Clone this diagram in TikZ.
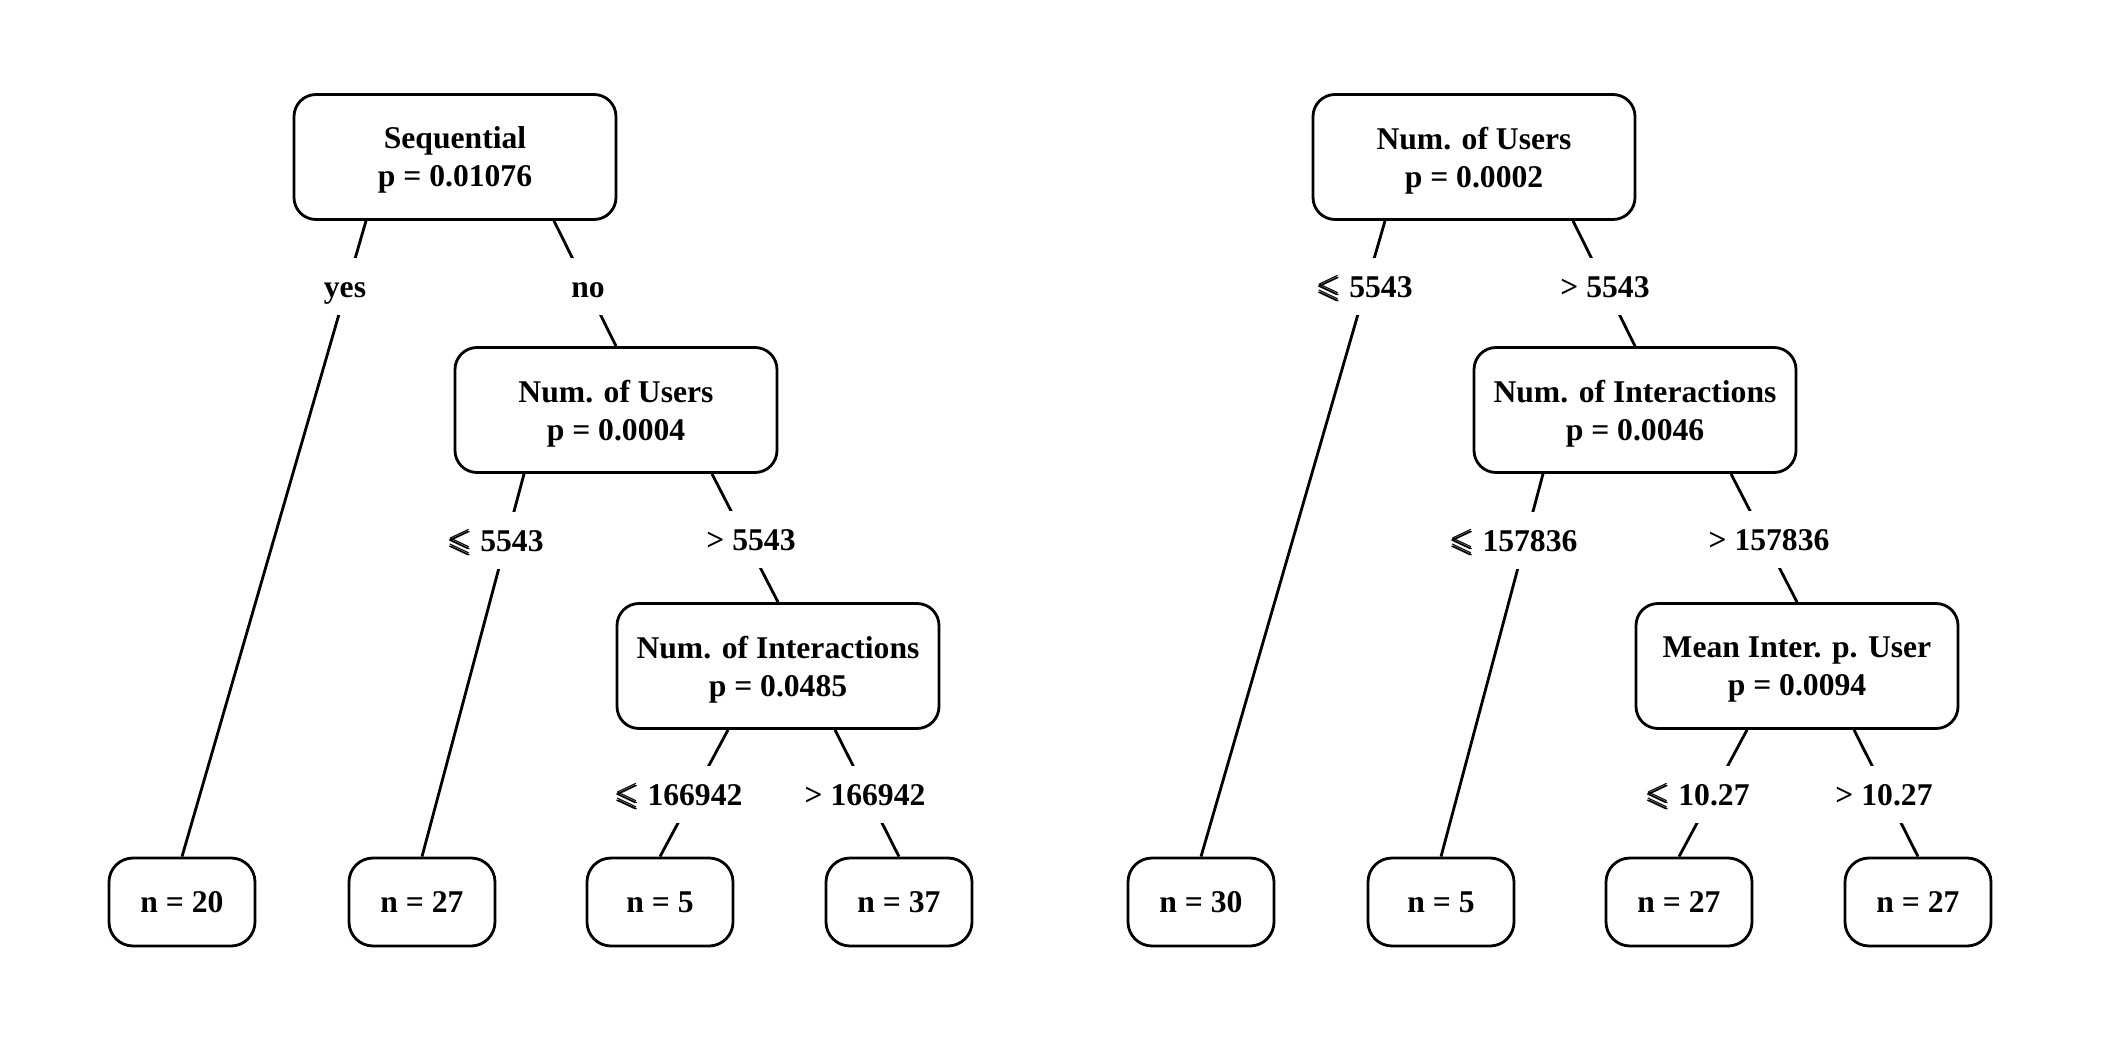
\documentclass[tikz,border=0pt]{standalone}
\usepackage{amsmath,amssymb,bm}
\usepackage{fontspec}
\setmainfont{Liberation Serif}
\usepackage{tikz}
\usetikzlibrary{positioning}

\begin{document}
\begin{tikzpicture}[
    inner/.style={rectangle, draw=black, line width=0.8pt, rounded corners=0.22cm, fill=white,
               minimum width=3.22cm, minimum height=1.25cm, align=center, text depth=0pt,
               font=\fontsize{9}{10.8}\selectfont\bfseries},
    leaf/.style={rectangle, draw=black, line width=0.8pt, rounded corners=0.24cm, fill=white,
               minimum width=1.46cm, minimum height=0.88cm, align=center,
               font=\fontsize{9}{10.8}\selectfont\bfseries},
    lab/.style={fill=white, inner xsep=2pt, inner ysep=0pt, text height=0.27cm, text depth=0.05cm,
               minimum height=0.57cm, font=\fontsize{9}{10.8}\selectfont\bfseries},
    edge/.style={line width=0.8pt, draw=black}
]
    \useasboundingbox (0,0) rectangle (21.13,-10.45);

    % Left tree: inner nodes
    \node[inner] (sq) at (4.55,-1.57) {Sequential\\p = 0.01076};
    \node[inner] (lu) at (6.16,-4.10) {Num. of Users\\p = 0.0004};
    \node[inner] (li) at (7.78,-6.66) {Num. of Interactions\\p = 0.0485};

    % Left tree: terminal nodes
    \node[leaf] (la) at (1.82,-9.02) {n = 20};
    \node[leaf] (lb) at (4.22,-9.02) {n = 27};
    \node[leaf] (lc) at (6.60,-9.02) {n = 5};
    \node[leaf] (ld) at (8.99,-9.02) {n = 37};

    % Left tree: edges
    \draw[edge] ([xshift=-0.89cm]sq.south) -- (la.north);
    \draw[edge] ([xshift=0.99cm]sq.south)  -- (lu.north);
    \draw[edge] ([xshift=-0.92cm]lu.south) -- (lb.north);
    \draw[edge] ([xshift=0.96cm]lu.south)  -- (li.north);
    \draw[edge] ([xshift=-0.50cm]li.south) -- (lc.north);
    \draw[edge] ([xshift=0.57cm]li.south)  -- (ld.north);

    % Left tree: split labels
    \node[lab] (lyes) at (3.45,-2.86) {yes};
    \node[lab] (lno)  at (5.88,-2.86) {no};
    \node[lab] (lul)  at (4.95,-5.40) {$\bm{\leqslant}$ 5543};
    \node[lab] (lug)  at (7.51,-5.39) {> 5543};
    \node[lab] (lil)  at (6.78,-7.94) {$\bm{\leqslant}$ 166942};
    \node[lab] (lig)  at (8.65,-7.94) {> 166942};

    % Right tree: inner nodes
    \node[inner] (ru) at (14.74,-1.57) {Num. of Users\\p = 0.0002};
    \node[inner] (ri) at (16.35,-4.10) {Num. of Interactions\\p = 0.0046};
    \node[inner] (rm) at (17.97,-6.66) {Mean Inter. p. User\\p = 0.0094};

    % Right tree: terminal nodes
    \node[leaf] (ra) at (12.01,-9.02) {n = 30};
    \node[leaf] (rb) at (14.41,-9.02) {n = 5};
    \node[leaf] (rc) at (16.79,-9.02) {n = 27};
    \node[leaf] (rd) at (19.18,-9.02) {n = 27};

    % Right tree: edges
    \draw[edge] ([xshift=-0.89cm]ru.south) -- (ra.north);
    \draw[edge] ([xshift=0.99cm]ru.south)  -- (ri.north);
    \draw[edge] ([xshift=-0.92cm]ri.south) -- (rb.north);
    \draw[edge] ([xshift=0.96cm]ri.south)  -- (rm.north);
    \draw[edge] ([xshift=-0.50cm]rm.south) -- (rc.north);
    \draw[edge] ([xshift=0.57cm]rm.south)  -- (rd.north);

    % Right tree: split labels
    \node[lab] (rul) at (13.64,-2.86) {$\bm{\leqslant}$ 5543};
    \node[lab] (rug) at (16.05,-2.86) {> 5543};
    \node[lab] (ril) at (15.13,-5.40) {$\bm{\leqslant}$ 157836};
    \node[lab] (rig) at (17.69,-5.39) {> 157836};
    \node[lab] (rml) at (16.97,-7.94) {$\bm{\leqslant}$ 10.27};
    \node[lab] (rmg) at (18.84,-7.94) {> 10.27};
\end{tikzpicture}
\end{document}
